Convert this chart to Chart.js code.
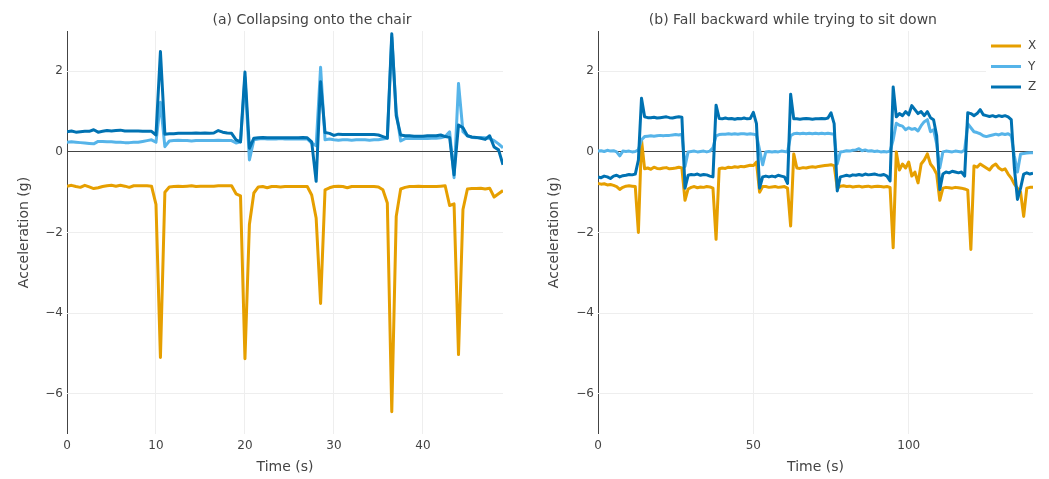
<!DOCTYPE html>
<html>
<head>
<meta charset="utf-8">
<script src="https://cdn.jsdelivr.net/npm/chart.js@4"></script>
<style>
  body { margin: 0; background: #fff; }
  #wrap { position: relative; width: 1049px; height: 479px; }
  #wrap canvas { position: absolute; top: 0; }
</style>
</head>
<body>
<div id="wrap">
  <canvas id="left-chart" width="524" height="479" style="left:0"></canvas>
  <canvas id="right-chart" width="525" height="479" style="left:524px"></canvas>
</div>
<script>
// series names / colours (X, Y, Z accelerometer axes)
const seriesNames = ['X', 'Y', 'Z'];
const seriesColors = ['#E69F00', '#56B4E9', '#0072B2'];

const yTicks = [-6, -4, -2, 0, 2];
const leftXTicks = [0, 10, 20, 30, 40];
const rightXTicks = [0, 50, 100];

// (a) sampled every 0.5 s, 0..49 s
const leftStep = 0.5;
const leftX = [
  -0.85,-0.83,-0.86,-0.88,-0.83,-0.87,-0.91,-0.89,-0.86,-0.84,
  -0.83,-0.85,-0.83,-0.85,-0.88,-0.84,-0.84,-0.84,-0.84,-0.85,
  -1.30,-5.10,-1.00,-0.87,-0.86,-0.85,-0.86,-0.85,-0.84,-0.86,
  -0.85,-0.85,-0.85,-0.85,-0.84,-0.84,-0.84,-0.84,-1.04,-1.09,
  -5.13,-1.80,-1.02,-0.87,-0.86,-0.89,-0.86,-0.86,-0.87,-0.86,
  -0.86,-0.86,-0.86,-0.86,-0.86,-1.07,-1.64,-3.76,-0.94,-0.89,
  -0.86,-0.85,-0.86,-0.89,-0.86,-0.86,-0.86,-0.86,-0.86,-0.86,
  -0.87,-0.94,-1.27,-6.45,-1.60,-0.92,-0.88,-0.86,-0.86,-0.85,
  -0.86,-0.86,-0.86,-0.86,-0.85,-0.84,-1.33,-1.29,-5.03,-1.43,
  -0.92,-0.91,-0.91,-0.90,-0.92,-0.90,-1.12,-1.04,-0.96
];
const leftY = [
  0.24,0.25,0.24,0.23,0.22,0.21,0.20,0.26,0.26,0.25,
  0.25,0.24,0.24,0.23,0.23,0.24,0.24,0.26,0.28,0.30,
  0.24,1.23,0.13,0.27,0.28,0.29,0.28,0.28,0.27,0.28,
  0.28,0.28,0.28,0.28,0.29,0.28,0.28,0.28,0.22,0.25,
  1.85,-0.20,0.30,0.32,0.33,0.32,0.32,0.32,0.33,0.32,
  0.32,0.32,0.32,0.32,0.32,0.22,0.15,2.10,0.30,0.32,
  0.30,0.29,0.30,0.30,0.29,0.30,0.30,0.30,0.29,0.30,
  0.30,0.32,0.34,2.85,1.00,0.27,0.33,0.34,0.33,0.33,
  0.33,0.33,0.34,0.34,0.35,0.38,0.50,-0.64,1.70,0.50,
  0.40,0.36,0.35,0.36,0.35,0.33,0.28,0.20,0.10
];
const leftZ = [
  0.50,0.52,0.49,0.50,0.51,0.51,0.55,0.49,0.51,0.53,
  0.52,0.53,0.54,0.52,0.52,0.52,0.52,0.51,0.51,0.51,
  0.42,2.49,0.44,0.45,0.45,0.46,0.46,0.46,0.46,0.47,
  0.46,0.47,0.46,0.47,0.53,0.49,0.47,0.46,0.30,0.25,
  1.98,0.09,0.34,0.35,0.36,0.35,0.35,0.35,0.35,0.35,
  0.35,0.35,0.35,0.36,0.35,0.25,-0.73,1.74,0.48,0.46,
  0.41,0.44,0.43,0.43,0.43,0.43,0.43,0.43,0.43,0.43,
  0.42,0.38,0.34,2.93,0.90,0.42,0.40,0.40,0.39,0.39,
  0.39,0.40,0.40,0.40,0.42,0.38,0.36,-0.57,0.67,0.60,
  0.40,0.37,0.36,0.34,0.31,0.40,0.12,0.05,-0.32
];

// (b) sampled every 1 s, 0..140 s
const rightStep = 1;
const rightX = [
  -0.78,-0.80,-0.79,-0.82,-0.81,-0.83,-0.86,-0.93,-0.88,-0.85,
  -0.84,-0.85,-0.86,-2.00,0.30,-0.42,-0.40,-0.43,-0.38,-0.41,
  -0.42,-0.40,-0.39,-0.42,-0.41,-0.40,-0.38,-0.40,-1.20,-0.92,
  -0.88,-0.86,-0.89,-0.87,-0.88,-0.86,-0.87,-0.90,-2.17,-0.42,
  -0.40,-0.41,-0.38,-0.39,-0.37,-0.38,-0.36,-0.37,-0.35,-0.33,
  -0.34,-0.25,-1.00,-0.86,-0.86,-0.88,-0.87,-0.86,-0.88,-0.87,
  -0.86,-0.90,-1.84,-0.05,-0.40,-0.41,-0.39,-0.40,-0.38,-0.37,
  -0.38,-0.36,-0.35,-0.34,-0.33,-0.32,-0.34,-0.90,-0.85,-0.84,
  -0.86,-0.85,-0.87,-0.86,-0.85,-0.87,-0.86,-0.85,-0.87,-0.86,
  -0.85,-0.86,-0.87,-0.86,-0.88,-2.38,0.00,-0.45,-0.30,-0.40,
  -0.25,-0.60,-0.50,-0.77,-0.30,-0.20,-0.05,-0.30,-0.40,-0.55,
  -1.20,-0.90,-0.88,-0.89,-0.90,-0.88,-0.89,-0.90,-0.92,-0.95,
  -2.42,-0.35,-0.38,-0.30,-0.35,-0.40,-0.45,-0.35,-0.30,-0.40,
  -0.45,-0.42,-0.55,-0.65,-0.80,-0.90,-1.00,-1.60,-0.90,-0.88,
  -0.88
];
const rightY = [
  0.02,0.03,0.01,0.04,0.02,0.03,0.00,-0.10,0.02,0.01,
  0.02,0.00,0.01,0.05,0.30,0.38,0.39,0.40,0.39,0.40,
  0.41,0.40,0.41,0.41,0.42,0.43,0.42,0.44,-0.36,0.00,
  0.01,0.02,0.00,0.01,0.02,0.00,0.02,0.10,0.40,0.43,
  0.44,0.44,0.45,0.44,0.45,0.44,0.45,0.45,0.44,0.45,
  0.44,0.42,0.05,-0.32,0.00,0.01,0.00,0.01,0.00,0.02,
  0.01,0.00,0.40,0.45,0.46,0.45,0.46,0.45,0.46,0.45,
  0.46,0.45,0.46,0.45,0.46,0.45,0.44,-0.30,0.00,0.01,
  0.03,0.02,0.04,0.05,0.08,0.03,0.05,0.02,0.03,0.01,
  0.02,0.00,0.01,0.00,0.02,0.30,0.71,0.66,0.64,0.55,
  0.60,0.56,0.58,0.52,0.65,0.75,0.80,0.50,0.55,0.20,
  -0.40,0.00,0.02,0.01,0.00,0.02,0.01,0.00,0.05,0.70,
  0.60,0.50,0.48,0.45,0.40,0.38,0.40,0.42,0.44,0.42,
  0.45,0.43,0.45,0.40,-0.10,-0.50,-0.05,-0.04,-0.03,-0.02,
  -0.02
];
const rightZ = [
  -0.62,-0.64,-0.60,-0.62,-0.66,-0.60,-0.58,-0.62,-0.59,-0.58,
  -0.56,-0.57,-0.55,-0.20,1.33,0.87,0.85,0.85,0.86,0.84,
  0.85,0.86,0.87,0.85,0.84,0.86,0.87,0.86,-0.90,-0.58,
  -0.56,-0.57,-0.55,-0.58,-0.56,-0.57,-0.60,-0.62,1.16,0.83,
  0.82,0.84,0.82,0.83,0.81,0.83,0.82,0.84,0.82,0.83,
  0.98,0.70,-0.90,-0.62,-0.60,-0.62,-0.60,-0.62,-0.58,-0.60,
  -0.62,-0.78,1.43,0.82,0.82,0.81,0.82,0.83,0.82,0.81,
  0.82,0.82,0.83,0.82,0.84,0.97,0.70,-0.97,-0.62,-0.60,
  -0.58,-0.60,-0.57,-0.58,-0.56,-0.58,-0.55,-0.57,-0.56,-0.55,
  -0.57,-0.58,-0.56,-0.60,-0.72,1.61,0.87,0.95,0.90,1.00,
  0.92,1.15,1.05,0.95,1.00,0.90,1.00,0.85,0.80,0.40,
  -0.94,-0.55,-0.50,-0.52,-0.48,-0.50,-0.52,-0.50,-0.60,0.97,
  0.95,0.90,0.95,1.05,0.92,0.90,0.88,0.90,0.87,0.90,
  0.88,0.90,0.87,0.80,-0.40,-1.18,-0.90,-0.55,-0.52,-0.55,
  -0.53
];

Chart.defaults.font.family = '"DejaVu Sans", Verdana, sans-serif';
Chart.defaults.color = '#444';

const fmt = v => String(v).replace('-', '\u2212');
const gridColor = ctx => (ctx.tick && ctx.tick.value === 0 ? '#444' : '#eee');

function toPoints(values, step) {
  return values.map((v, i) => ({ x: i * step, y: v }));
}

function makeDatasets(series, step) {
  return series.map((values, i) => ({
    label: seriesNames[i],
    data: toPoints(values, step),
    borderColor: seriesColors[i],
    backgroundColor: seriesColors[i],
    borderWidth: 3,
    pointRadius: 0,
    tension: 0,
    borderJoinStyle: 'round',
    order: 3 - i
  }));
}

function makeScales(xMax, xTicks, yWidth, yTitlePad) {
  return {
    x: {
      type: 'linear',
      min: 0,
      max: xMax,
      afterBuildTicks: s => { s.ticks = xTicks.map(v => ({ value: v })); },
      afterFit: s => { s.height = 45; },
      grid: { color: gridColor, drawTicks: false },
      border: { display: false },
      ticks: { padding: 5, font: { size: 12 }, autoSkip: false, maxRotation: 0, callback: fmt },
      title: { display: true, text: 'Time (s)', font: { size: 14 }, padding: { top: 0, bottom: 3 } }
    },
    y: {
      min: -7,
      max: 3,
      afterBuildTicks: s => { s.ticks = yTicks.map(v => ({ value: v })); },
      afterFit: s => { s.width = yWidth; },
      grid: { color: gridColor, drawTicks: false },
      border: { display: false },
      ticks: { padding: 4, font: { size: 12 }, callback: fmt },
      title: { display: true, text: 'Acceleration (g)', font: { size: 14 }, padding: { top: yTitlePad, bottom: 0 } }
    }
  };
}

function subplotTitle(text, frac) {
  return {
    id: 'subplotTitle',
    afterDraw(chart) {
      const { ctx, chartArea } = chart;
      ctx.save();
      ctx.font = '14px "DejaVu Sans"';
      ctx.fillStyle = '#444';
      ctx.textAlign = 'center';
      ctx.textBaseline = 'middle';
      ctx.fillText(text, chartArea.left + frac * (chartArea.right - chartArea.left), 20);
      ctx.restore();
    }
  };
}

// plotly-style legend in the top right corner of the plot area
const cornerLegend = {
  id: 'cornerLegend',
  afterDatasetsDraw(chart) {
    const { ctx, chartArea } = chart;
    const r = chartArea.right;
    const t = chartArea.top;
    ctx.save();
    ctx.fillStyle = '#fff';
    ctx.fillRect(r - 47, t + 3, 60, 64);
    ctx.font = '12px "DejaVu Sans"';
    ctx.textBaseline = 'middle';
    ctx.textAlign = 'left';
    seriesNames.forEach((name, i) => {
      const y = t + 15 + i * 20.5;
      ctx.beginPath();
      ctx.moveTo(r - 42, y);
      ctx.lineTo(r - 12, y);
      ctx.lineWidth = 3;
      ctx.strokeStyle = seriesColors[i];
      ctx.stroke();
      ctx.fillStyle = '#444';
      ctx.fillText(name, r - 5, y);
    });
    ctx.restore();
  }
};

const baseOptions = {
  responsive: false,
  animation: false,
  plugins: { legend: { display: false }, tooltip: { enabled: false } }
};

new Chart(document.getElementById('left-chart'), {
  type: 'line',
  data: { datasets: makeDatasets([leftX, leftY, leftZ], leftStep) },
  options: {
    ...baseOptions,
    layout: { padding: { top: 31, right: 21, bottom: 0, left: 0 } },
    scales: makeScales(49, leftXTicks, 67, 16)
  },
  plugins: [subplotTitle('(a) Collapsing onto the chair', 0.562)]
});

new Chart(document.getElementById('right-chart'), {
  type: 'line',
  data: { datasets: makeDatasets([rightX, rightY, rightZ], rightStep) },
  options: {
    ...baseOptions,
    layout: { padding: { top: 31, right: 16, bottom: 0, left: 0 } },
    scales: makeScales(140, rightXTicks, 74, 22)
  },
  plugins: [subplotTitle('(b) Fall backward while trying to sit down', 0.448), cornerLegend]
});
</script>
</body>
</html>
